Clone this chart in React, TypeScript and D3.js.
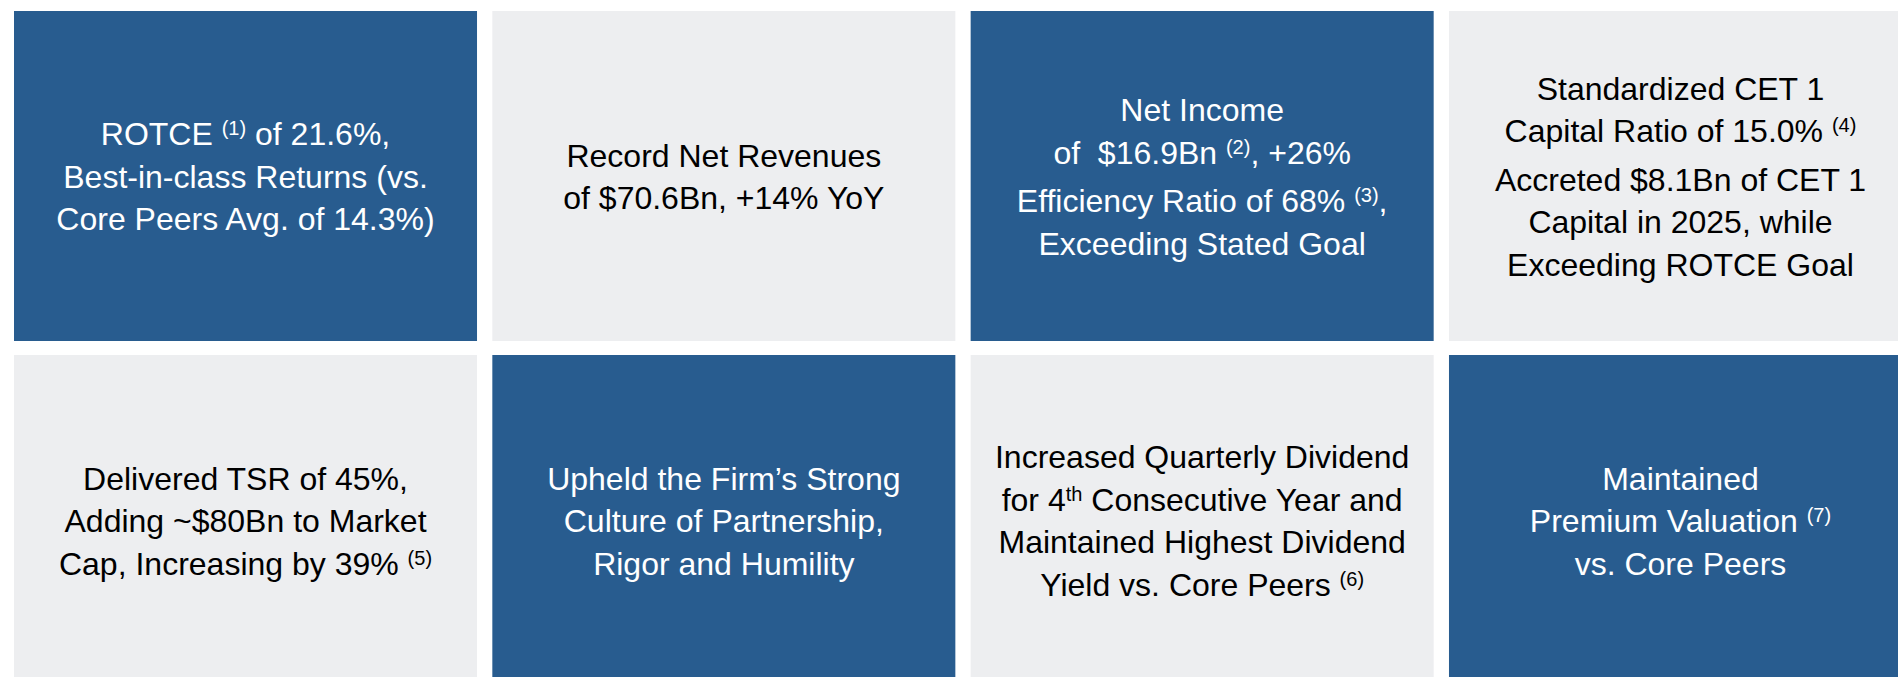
import React from "react";
import * as d3 from "d3";

// ---- Data ----
const tileIds = [0, 1, 2, 3, 4, 5, 6, 7];
const tileThemes = ["blue", "gray", "blue", "gray", "gray", "blue", "gray", "blue"];
// Each tile: paragraphs -> lines; {..} marks superscript text
const tileTexts: string[][][] = [
  [["ROTCE {(1)} of 21.6%,", "Best-in-class Returns (vs.", "Core Peers Avg. of 14.3%)"]],
  [["Record Net Revenues", "of $70.6Bn, +14% YoY"]],
  [["Net Income", "of  $16.9Bn {(2)}, +26%"], ["Efficiency Ratio of 68% {(3)},", "Exceeding Stated Goal"]],
  [["Standardized CET 1", "Capital Ratio of 15.0% {(4)}"], ["Accreted $8.1Bn of CET 1", "Capital in 2025, while", "Exceeding ROTCE Goal"]],
  [["Delivered TSR of 45%,", "Adding ~$80Bn to Market", "Cap, Increasing by 39% {(5)}"]],
  [["Upheld the Firm\u2019s Strong", "Culture of Partnership,", "Rigor and Humility"]],
  [["Increased Quarterly Dividend", "for 4{th} Consecutive Year and", "Maintained Highest Dividend", "Yield vs. Core Peers {(6)}"]],
  [["Maintained", "Premium Valuation {(7)}", "vs. Core Peers"]],
];

const W = 1898;
const H = 677;
const COLORS: Record<string, { fill: string; text: string }> = {
  blue: { fill: "#285C8F", text: "#FFFFFF" },
  gray: { fill: "#EDEEF0", text: "#000000" },
};
const FONT = "'Liberation Sans', Arial, Helvetica, sans-serif";
const FS = 32;
const SUP_FS = 20;
const SUP_RAISE = 10;
const LINE_H = 42.5;
const PARA_GAP = 6;

function parseLine(line: string) {
  const parts: { t: string; sup: boolean }[] = [];
  const re = /\{([^}]*)\}/g;
  let last = 0;
  let m: RegExpExecArray | null;
  while ((m = re.exec(line)) !== null) {
    if (m.index > last) parts.push({ t: line.slice(last, m.index), sup: false });
    parts.push({ t: m[1], sup: true });
    last = m.index + m[0].length;
  }
  if (last < line.length) parts.push({ t: line.slice(last), sup: false });
  return parts;
}

export default function App() {
  const x = d3
    .scaleBand<number>()
    .domain([0, 1, 2, 3])
    .range([14, 1912])
    .paddingInner(0.032)
    .paddingOuter(0);
  const y = d3
    .scaleBand<number>()
    .domain([0, 1])
    .range([11, 685])
    .paddingInner(0.0407)
    .paddingOuter(0);

  return (
    <div style={{ position: "fixed", left: 0, top: 0, width: W, height: H, background: "#fff" }}>
      <svg width={W} height={H} style={{ display: "block" }}>
        {tileIds.map((id) => {
          const col = id % 4;
          const row = Math.floor(id / 4);
          const x0 = x(col)!;
          const y0 = y(row)!;
          const bw = x.bandwidth();
          const bh = y.bandwidth();
          const theme = COLORS[tileThemes[id]];
          const paras = tileTexts[id];
          const lines: { text: string; offset: number }[] = [];
          let off = 0;
          paras.forEach((p, pi) => {
            if (pi > 0) off += PARA_GAP;
            p.forEach((l, li) => {
              if (pi > 0 || li > 0) off += LINE_H;
              lines.push({ text: l, offset: off });
            });
          });
          const span = off;
          const cx = x0 + bw / 2;
          const cy = y0 + bh / 2 + 12;
          const top = cy - span / 2;
          return (
            <g key={id}>
              <rect x={x0} y={y0} width={bw} height={bh} fill={theme.fill} />
              {lines.map((ln, i) => {
                const segs = parseLine(ln.text);
                return (
                  <text
                    key={i}
                    x={cx}
                    y={top + ln.offset}
                    textAnchor="middle"
                    fill={theme.text}
                    fontFamily={FONT}
                    fontSize={FS}
                    style={{ whiteSpace: "pre" }}
                  >
                    {segs.map((s, si) => {
                      const prevSup = si > 0 && segs[si - 1].sup;
                      if (s.sup) {
                        return (
                          <tspan key={si} dy={-SUP_RAISE} fontSize={SUP_FS}>
                            {s.t}
                          </tspan>
                        );
                      }
                      return (
                        <tspan key={si} dy={prevSup ? SUP_RAISE : 0}>
                          {s.t}
                        </tspan>
                      );
                    })}
                  </text>
                );
              })}
            </g>
          );
        })}
      </svg>
    </div>
  );
}
